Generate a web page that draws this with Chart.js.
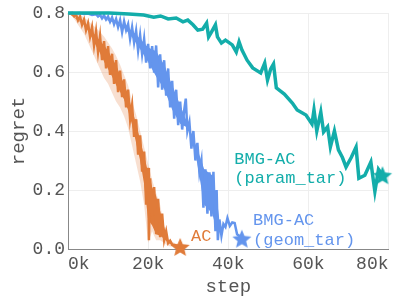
<!DOCTYPE html>
<html>
<head>
<meta charset="utf-8">
<script src="https://cdn.jsdelivr.net/npm/chart.js@4"></script>
<style>
  html, body { margin: 0; padding: 0; background: #fff; }
  canvas { display: block; }
</style>
</head>
<body>
<canvas id="regretChart" width="400" height="300"></canvas>
<script>
// AC (orange) - noisy mean line, its dense core and a light spread band
const acSteps = [0, 500, 1000, 1500, 2000, 2500, 3000, 3500, 4000, 4500, 5000, 5500, 6000, 6500, 7000, 7500, 8000, 8500, 9000, 9500,
    10000, 10500, 11000, 11500, 12000, 12500, 13000, 13500, 14000, 14500, 15000, 15500, 16000, 16500, 17000, 17500, 18000, 18500, 19000, 19500,
    20000, 20200, 20500, 21000, 21500, 22000, 22500, 23000, 23500, 24000, 24500, 25000, 25500, 26000, 27000, 28000];
const acRegret = [0.800, 0.798, 0.800, 0.790, 0.795, 0.775, 0.788, 0.760, 0.778, 0.742, 0.765, 0.720, 0.752, 0.690, 0.738, 0.668, 0.722, 0.640, 0.705, 0.612,
    0.688, 0.590, 0.662, 0.560, 0.640, 0.532, 0.605, 0.515, 0.575, 0.480, 0.540, 0.440, 0.488, 0.380, 0.440, 0.320, 0.385, 0.262, 0.330, 0.150,
    0.275, 0.030, 0.240, 0.110, 0.210, 0.050, 0.170, 0.040, 0.120, 0.030, 0.060, 0.020, 0.028, 0.015, 0.012, 0.007];
const acBandSteps = [0, 1000, 2000, 3000, 4000, 5000, 6000, 7000, 8000, 9000, 10000, 11000, 12000, 13000, 14000,
    15000, 16000, 17000, 18000, 19000, 20000, 21000, 22000, 23000, 24000, 25000, 26000, 27000, 28000];
const acCoreHigh = [0.80, 0.795, 0.782, 0.773, 0.763, 0.75, 0.737, 0.722, 0.706, 0.69, 0.672, 0.647, 0.624, 0.59, 0.56,
    0.524, 0.472, 0.425, 0.37, 0.315, 0.26, 0.21, 0.18, 0.13, 0.075, 0.03, 0.018, 0.013, 0.007];
const acCoreLow = [0.80, 0.79, 0.78, 0.77, 0.761, 0.741, 0.715, 0.689, 0.664, 0.636, 0.611, 0.585, 0.556, 0.533, 0.507,
    0.47, 0.42, 0.36, 0.30, 0.22, 0.10, 0.08, 0.05, 0.045, 0.035, 0.02, 0.014, 0.011, 0.007];
const acBandHigh = [0.80, 0.80, 0.80, 0.795, 0.785, 0.775, 0.76, 0.75, 0.735, 0.72, 0.70, 0.68, 0.655, 0.625, 0.59,
    0.555, 0.50, 0.455, 0.40, 0.345, 0.29, 0.235, 0.19, 0.15, 0.08, 0.035, 0.025, 0.018, 0.012];
const acBandLow = [0.80, 0.79, 0.77, 0.75, 0.73, 0.70, 0.67, 0.64, 0.61, 0.58, 0.56, 0.53, 0.50, 0.48, 0.45,
    0.41, 0.35, 0.29, 0.23, 0.15, 0.02, 0.06, 0.03, 0.03, 0.02, 0.01, 0.008, 0.006, 0.004];

// BMG-AC (geom_tar) - blue
const geomSteps = [0, 1000, 2000, 3000, 4000, 5000, 6000, 7000, 7500, 8000, 8500, 9000, 9500, 10000, 10500, 11000, 11500, 12000, 12500,
    13000, 13500, 14000, 14500, 15000, 15500, 16000, 16500, 17000, 17500, 18000, 18500, 19000, 19500, 20000, 20500, 21000, 21500,
    22000, 22500, 23000, 23500, 24000, 24500, 25000, 25500, 26000, 26500, 27000, 27500, 28000, 28500, 29000, 29400, 29800, 30300,
    30800, 31300, 31800, 32300, 32800, 33300, 33800, 34300, 34800, 35300, 35800, 36300, 36800, 37100, 37400, 37800, 38300, 38800,
    39300, 39800, 40400, 41000, 41600, 42200, 42700, 43400];
const geomRegret = [0.800, 0.800, 0.799, 0.800, 0.797, 0.798, 0.793, 0.796, 0.788, 0.794, 0.782, 0.792, 0.778, 0.788, 0.770, 0.785, 0.762, 0.780, 0.752,
    0.776, 0.735, 0.772, 0.742, 0.762, 0.712, 0.752, 0.700, 0.740, 0.672, 0.725, 0.660, 0.712, 0.632, 0.695, 0.612, 0.688, 0.598,
    0.690, 0.548, 0.660, 0.540, 0.640, 0.520, 0.612, 0.480, 0.570, 0.442, 0.540, 0.420, 0.500, 0.405, 0.470, 0.510, 0.400, 0.430,
    0.340, 0.400, 0.300, 0.360, 0.260, 0.300, 0.140, 0.270, 0.120, 0.260, 0.110, 0.262, 0.060, 0.200, 0.030, 0.100, 0.045, 0.085,
    0.075, 0.105, 0.078, 0.090, 0.088, 0.050, 0.045, 0.035];
const geomCoreSteps = [0, 2000, 4000, 6000, 8000, 10000, 12000, 14000, 16000, 18000, 20000, 22000, 24000, 26000, 28000, 30000,
    32000, 34000, 36000, 37000, 37800];
const geomCoreHigh = [0.80, 0.799, 0.797, 0.793, 0.785, 0.777, 0.768, 0.758, 0.74, 0.713, 0.683, 0.67, 0.625, 0.555, 0.488, 0.42,
    0.35, 0.27, 0.25, 0.18, 0.10];
const geomCoreLow = [0.80, 0.799, 0.797, 0.793, 0.785, 0.775, 0.765, 0.75, 0.718, 0.678, 0.634, 0.585, 0.542, 0.473, 0.425, 0.41,
    0.31, 0.15, 0.12, 0.07, 0.10];

// BMG-AC (param_tar) - teal
const paramSteps = [0, 5400, 10300, 15200, 18900, 21400, 23100, 25000, 27000, 28700, 29900, 31200, 32400, 33600, 34600, 35100, 35800, 36800,
    37300, 38300, 39300, 41000, 42000, 42700, 43400, 44700, 46100, 48100, 49100, 49800, 50600, 51300, 52000, 54000, 56000, 57200,
    59400, 60900, 61400, 62100, 63100, 63800, 64800, 65500, 66500, 67500, 68500, 69400, 70700, 71900, 72600, 74100, 75600, 76600,
    77500, 78500];
const paramRegret = [0.800, 0.800, 0.800, 0.797, 0.793, 0.786, 0.790, 0.780, 0.783, 0.770, 0.776, 0.760, 0.742, 0.745, 0.766, 0.719, 0.735, 0.760,
    0.719, 0.698, 0.708, 0.692, 0.668, 0.702, 0.675, 0.640, 0.614, 0.597, 0.630, 0.573, 0.610, 0.627, 0.546, 0.525, 0.495, 0.471,
    0.454, 0.424, 0.471, 0.400, 0.464, 0.397, 0.414, 0.346, 0.400, 0.336, 0.310, 0.278, 0.310, 0.345, 0.240, 0.250, 0.295, 0.195,
    0.270, 0.250];

const xTicks = [0, 20000, 40000, 60000, 80000];
const yTicks = [0, 0.2, 0.4, 0.6, 0.8];

const ORANGE = '#e07b39';
const BLUE = '#6495ed';
const TEAL = '#13adaa';
const MONO = '"Liberation Mono", "DejaVu Sans Mono", monospace';

// text labels next to the end of each curve (data coords)
const curveLabels = [
    { lines: ['AC'], x: 30700, y: 0.041, color: ORANGE },
    { lines: ['BMG-AC', '(geom_tar)'], x: 46200, y: 0.095, color: BLUE },
    { lines: ['BMG-AC', '(param_tar)'], x: 41500, y: 0.305, color: TEAL }
];

function toXY(xs, ys) {
    return xs.map((x, i) => ({ x: x, y: ys[i] }));
}

function makeStar(color, r) {
    const c = document.createElement('canvas');
    c.width = c.height = r * 2 + 2;
    const g = c.getContext('2d');
    g.fillStyle = color;
    g.beginPath();
    for (let i = 0; i < 10; i++) {
        const rad = i % 2 ? r * 0.45 : r;
        const a = -Math.PI / 2 + i * Math.PI / 5;
        g.lineTo(c.width / 2 + rad * Math.cos(a), c.height / 2 + 1 + rad * Math.sin(a));
    }
    g.closePath();
    g.fill();
    return c;
}

const lastOnly = ctx => ctx.dataIndex === ctx.dataset.data.length - 1 ? 8 : 0;

function hidden(label, xs, ys, fill, color) {
    return {
        label: label,
        data: toXY(xs, ys),
        borderWidth: 0,
        pointRadius: 0,
        backgroundColor: color || 'transparent',
        fill: fill
    };
}

const labelPlugin = {
    id: 'curveLabels',
    afterDatasetsDraw(chart) {
        const ctx = chart.ctx;
        const xs = chart.scales.x, ys = chart.scales.y;
        ctx.save();
        ctx.font = '17px ' + MONO;
        ctx.textAlign = 'left';
        ctx.textBaseline = 'middle';
        curveLabels.forEach(lab => {
            const px = xs.getPixelForValue(lab.x);
            const py = ys.getPixelForValue(lab.y);
            ctx.fillStyle = lab.color;
            lab.lines.forEach((t, i) => ctx.fillText(t, px, py + i * 19.5));
        });
        ctx.restore();
    }
};

const ctx = document.getElementById('regretChart').getContext('2d');

new Chart(ctx, {
    type: 'line',
    data: {
        datasets: [
            {
                label: 'BMG-AC (param_tar)',
                data: toXY(paramSteps, paramRegret),
                borderColor: TEAL,
                borderWidth: 3.5,
                pointRadius: lastOnly,
                pointStyle: makeStar(TEAL, 10),
                clip: false
            },
            {
                label: 'BMG-AC (geom_tar)',
                data: toXY(geomSteps, geomRegret),
                borderColor: BLUE,
                borderWidth: 2.5,
                pointRadius: lastOnly,
                pointStyle: makeStar(BLUE, 10),
                clip: false
            },
            hidden('geom core high', geomCoreSteps, geomCoreHigh, false),
            hidden('geom core low', geomCoreSteps, geomCoreLow, '-1', BLUE),
            {
                label: 'AC',
                data: toXY(acSteps, acRegret),
                borderColor: ORANGE,
                borderWidth: 2.5,
                pointRadius: lastOnly,
                pointStyle: makeStar(ORANGE, 10),
                clip: false
            },
            hidden('AC core high', acBandSteps, acCoreHigh, false),
            hidden('AC core low', acBandSteps, acCoreLow, '-1', ORANGE),
            hidden('AC band high', acBandSteps, acBandHigh, false),
            hidden('AC band low', acBandSteps, acBandLow, '-1', 'rgba(232, 150, 100, 0.3)')
        ]
    },
    options: {
        responsive: false,
        animation: false,
        layout: { padding: { left: 0, right: 6, top: 13, bottom: 0 } },
        plugins: {
            legend: { display: false },
            tooltip: { enabled: false }
        },
        scales: {
            x: {
                type: 'linear',
                min: 0,
                max: 80000,
                afterBuildTicks: s => { s.ticks = xTicks.map(v => ({ value: v })); },
                afterFit: s => { s.height = 51; },
                ticks: {
                    callback: v => (v / 1000) + 'k',
                    align: 'inner',
                    maxRotation: 0,
                    padding: 4,
                    color: '#555',
                    font: { family: MONO, size: 18 }
                },
                grid: { color: '#eeeeee', drawTicks: false },
                border: { color: '#888' },
                title: {
                    display: true,
                    text: 'step',
                    color: '#555',
                    padding: { top: 0, bottom: 2 },
                    font: { family: MONO, size: 19 }
                }
            },
            y: {
                min: 0,
                max: 0.8,
                afterBuildTicks: s => { s.ticks = yTicks.map(v => ({ value: v })); },
                afterFit: s => { s.width = 68; s.paddingTop = 0; s.paddingBottom = 0; },
                ticks: {
                    callback: v => v.toFixed(1),
                    padding: 3,
                    color: '#555',
                    font: { family: MONO, size: 18 }
                },
                grid: { color: '#eeeeee', drawTicks: false },
                border: { color: '#888' },
                title: {
                    display: true,
                    text: 'regret',
                    color: '#555',
                    padding: { top: 8, bottom: 0 },
                    font: { family: MONO, size: 19 }
                }
            }
        }
    },
    plugins: [labelPlugin]
});
</script>
</body>
</html>
